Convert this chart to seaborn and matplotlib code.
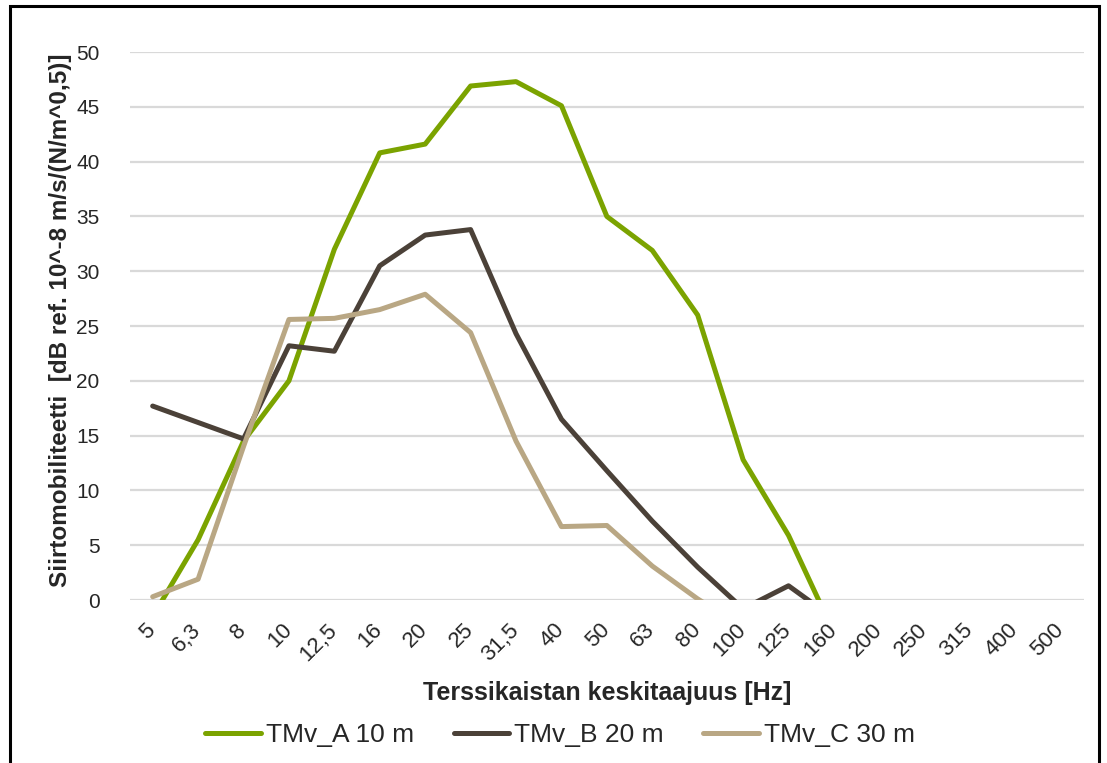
import numpy as np
import pandas as pd
import matplotlib
matplotlib.use("Agg")
import matplotlib.pyplot as plt
import matplotlib.transforms as mtransforms
import seaborn as sns
from matplotlib.patches import Rectangle

# third-octave band centre frequencies
freqs = ["5", "6,3", "8", "10", "12,5", "16", "20", "25", "31,5", "40", "50",
         "63", "80", "100", "125", "160", "200", "250", "315", "400", "500"]

# values (values below 0 are clipped in the original)
tmv_a = [-1.5, 5.5, 14.5, 20.0, 32.0, 40.8, 41.6, 46.9, 47.3, 45.1, 35.0,
         31.9, 26.0, 12.8, 5.9, -3.0, np.nan, np.nan, np.nan, np.nan, np.nan]
tmv_b = [17.7, 16.2, 14.7, 23.2, 22.7, 30.5, 33.3, 33.8, 24.3, 16.5, 11.8,
         7.2, 3.0, -0.8, 1.3, -1.7, np.nan, np.nan, np.nan, np.nan, np.nan]
tmv_c = [0.3, 1.9, 14.0, 25.6, 25.7, 26.5, 27.9, 24.4, 14.5, 6.7, 6.8,
         3.1, 0.1, -2.5, np.nan, np.nan, np.nan, np.nan, np.nan, np.nan, np.nan]

series_names = ["TMv_A 10 m", "TMv_B 20 m", "TMv_C 30 m"]
colors = ["#7ba300", "#4b4138", "#b9a784"]

rows = []
for name, vals in zip(series_names, [tmv_a, tmv_b, tmv_c]):
    for i, v in enumerate(vals):
        rows.append({"pos": i, "value": v, "series": name})
df = pd.DataFrame(rows)

sns.set_theme(style="white")
plt.rcParams['font.family'] = ['Liberation Sans', 'DejaVu Sans']

fig = plt.figure(figsize=(11.07, 7.63), dpi=100)
ax = fig.add_axes([0.1174, 0.2136, 0.8616, 0.7182])

sns.lineplot(data=df, x="pos", y="value", hue="series", palette=colors,
             hue_order=series_names, linewidth=3.6, ax=ax, legend=True,
             estimator=None, sort=False)
for ln in ax.lines:
    ln.set_solid_joinstyle("round")
    ln.set_solid_capstyle("round")

ax.set_xlim(-0.5, len(freqs) - 0.5)
ax.set_ylim(0, 50)
ax.set_yticks(np.arange(0, 51, 5))
ax.set_xticks(range(len(freqs)))
ax.set_xticklabels(freqs, rotation=45, ha="right", va="top", fontsize=16)
ax.tick_params(axis="y", labelsize=15, length=0, pad=22)
ax.tick_params(axis="x", length=0, pad=14)
# shift rotated labels a little right, like the original
shift = mtransforms.ScaledTranslation(7 / 100, 0, fig.dpi_scale_trans)
for lbl in ax.get_xticklabels():
    lbl.set_transform(lbl.get_transform() + shift)

ax.yaxis.grid(True, color="#d9d9d9", linewidth=1.6)
ax.set_axisbelow(True)
for s in ax.spines.values():
    s.set_visible(False)

ax.set_xlabel("Terssikaistan keskitaajuus [Hz]", fontsize=18, fontweight="bold",
              va="center")
ax.xaxis.set_label_coords(0.5, -0.17)
ax.set_ylabel("Siirtomobiliteetti  [dB ref. 10^-8 m/s/(N/m^0,5)]", fontsize=17.5,
              fontweight="bold", va="center")
ax.yaxis.set_label_coords(-0.073, 0.51)

handles, labels = ax.get_legend_handles_labels()
ax.get_legend().remove()
fig.legend(handles, labels, loc="center", bbox_to_anchor=(0.506, 0.037), ncol=3,
           frameon=False, fontsize=19, handlelength=2.1, columnspacing=1.5,
           handletextpad=0.2)

fig.patches.append(Rectangle((10 / 1107, -0.05), 1089 / 1107, 1.05 - 6 / 763,
                             transform=fig.transFigure, fill=False,
                             edgecolor="black", linewidth=2.2))

fig.savefig("out.png", dpi=100)
